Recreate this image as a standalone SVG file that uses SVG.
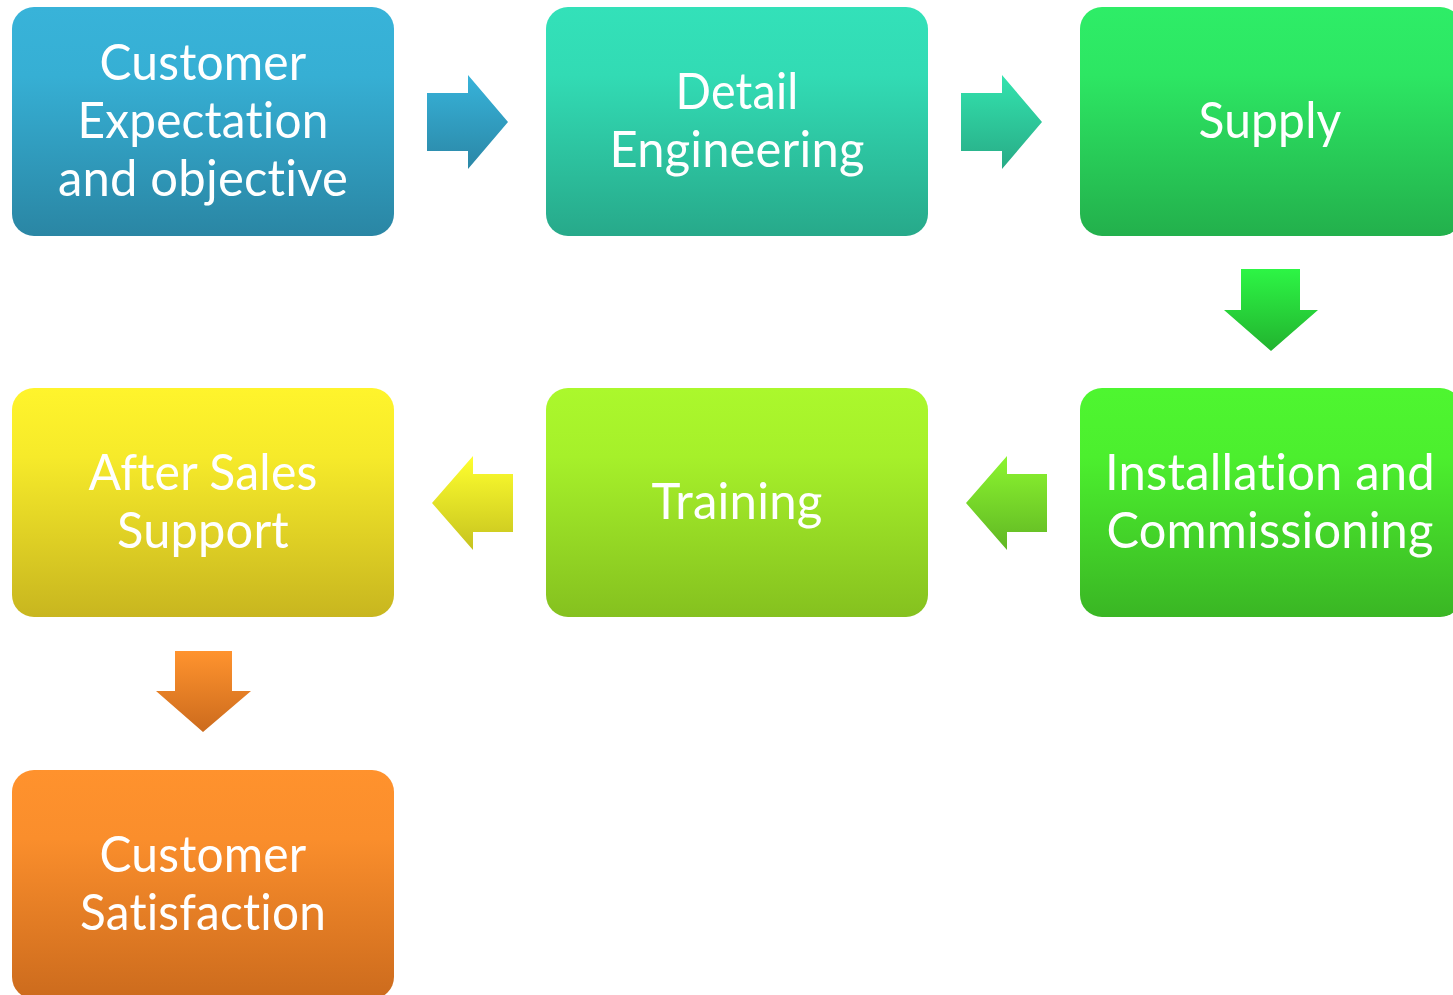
<svg xmlns="http://www.w3.org/2000/svg" width="1453" height="995" viewBox="0 0 1453 995">
<defs>
<linearGradient id="g1" x1="0" y1="0" x2="0" y2="1"><stop offset="0" stop-color="#38b3d9"/><stop offset="0.3" stop-color="#36afd4"/><stop offset="1" stop-color="#2a86a4"/></linearGradient>
<linearGradient id="g2" x1="0" y1="0" x2="0" y2="1"><stop offset="0" stop-color="#33e1b9"/><stop offset="0.3" stop-color="#32dbb4"/><stop offset="1" stop-color="#27a98a"/></linearGradient>
<linearGradient id="g3" x1="0" y1="0" x2="0" y2="1"><stop offset="0" stop-color="#2eed67"/><stop offset="0.3" stop-color="#2de663"/><stop offset="1" stop-color="#23b04c"/></linearGradient>
<linearGradient id="g4" x1="0" y1="0" x2="0" y2="1"><stop offset="0" stop-color="#4ef630"/><stop offset="0.3" stop-color="#4cef2e"/><stop offset="1" stop-color="#3ab624"/></linearGradient>
<linearGradient id="g5" x1="0" y1="0" x2="0" y2="1"><stop offset="0" stop-color="#abf82c"/><stop offset="0.3" stop-color="#a6f02a"/><stop offset="1" stop-color="#85c11f"/></linearGradient>
<linearGradient id="g6" x1="0" y1="0" x2="0" y2="1"><stop offset="0" stop-color="#fff42c"/><stop offset="0.3" stop-color="#f6ea2a"/><stop offset="1" stop-color="#c8b61f"/></linearGradient>
<linearGradient id="g7" x1="0" y1="0" x2="0" y2="1"><stop offset="0" stop-color="#ff922d"/><stop offset="0.3" stop-color="#fa8e2c"/><stop offset="1" stop-color="#cc6b1d"/></linearGradient>
<linearGradient id="a1" x1="0" y1="0" x2="0" y2="1"><stop offset="0" stop-color="#37b3da"/><stop offset="1" stop-color="#2b87a6"/></linearGradient>
<linearGradient id="a2" x1="0" y1="0" x2="0" y2="1"><stop offset="0" stop-color="#33e3ae"/><stop offset="1" stop-color="#28ab86"/></linearGradient>
<linearGradient id="a3" x1="0" y1="0" x2="0" y2="1"><stop offset="0" stop-color="#2df545"/><stop offset="1" stop-color="#22b32f"/></linearGradient>
<linearGradient id="a4" x1="0" y1="0" x2="0" y2="1"><stop offset="0" stop-color="#8cf52f"/><stop offset="1" stop-color="#60b724"/></linearGradient>
<linearGradient id="a5" x1="0" y1="0" x2="0" y2="1"><stop offset="0" stop-color="#ffff2e"/><stop offset="1" stop-color="#c6c31f"/></linearGradient>
<linearGradient id="a6" x1="0" y1="0" x2="0" y2="1"><stop offset="0" stop-color="#ff932e"/><stop offset="1" stop-color="#cc6b1d"/></linearGradient>
</defs>
<style>
.box{rx:22px;ry:22px}
text{font-family:Lato,"Open Sans","Liberation Sans",sans-serif;font-size:50px;fill:#ffffff;text-anchor:middle;letter-spacing:0.2px;font-variant-ligatures:none;font-feature-settings:"liga" 0,"clig" 0,"dlig" 0}
</style>
<rect width="1453" height="995" fill="#ffffff"/>
<g id="connectors">
<polygon points="427,93 468,93 468,75 508,122 468,169 468,151 427,151" fill="url(#a1)"/>
<polygon points="961,93 1002,93 1002,75 1042,122 1002,169 1002,151 961,151" fill="url(#a2)"/>
<polygon points="1241,269 1300,269 1300,310 1318,310 1271,351 1224,310 1241,310" fill="url(#a3)"/>
<polygon points="1047,474 1007,474 1007,456 966,503 1007,550 1007,532 1047,532" fill="url(#a4)"/>
<polygon points="513,474 473,474 473,456 432,503 473,550 473,532 513,532" fill="url(#a5)"/>
<polygon points="175,651 232,651 232,691 251,691 203,732 156,691 175,691" fill="url(#a6)"/>
</g>
<g id="n1"><rect class="box" x="12" y="7" width="382" height="229" fill="url(#g1)"/>
<text x="203" y="80" textLength="207" lengthAdjust="spacingAndGlyphs">Customer</text>
<text x="203" y="138" textLength="251" lengthAdjust="spacingAndGlyphs">Expectation</text>
<text x="203" y="196" textLength="290" lengthAdjust="spacingAndGlyphs">and objective</text></g>
<g id="n2"><rect class="box" x="546" y="7" width="382" height="229" fill="url(#g2)"/>
<text x="737" y="109" textLength="123" lengthAdjust="spacingAndGlyphs">Detail</text>
<text x="737" y="167" textLength="255" lengthAdjust="spacingAndGlyphs">Engineering</text></g>
<g id="n3"><rect class="box" x="1080" y="7" width="382" height="229" fill="url(#g3)"/>
<text x="1270" y="138" textLength="143" lengthAdjust="spacingAndGlyphs">Supply</text></g>
<g id="n4"><rect class="box" x="1080" y="388" width="382" height="229" fill="url(#g4)"/>
<text x="1270" y="490" textLength="330" lengthAdjust="spacingAndGlyphs">Installation and</text>
<text x="1270" y="548" textLength="327" lengthAdjust="spacingAndGlyphs">Commissioning</text></g>
<g id="n5"><rect class="box" x="546" y="388" width="382" height="229" fill="url(#g5)"/>
<text x="737" y="519" textLength="171" lengthAdjust="spacingAndGlyphs">Training</text></g>
<g id="n6"><rect class="box" x="12" y="388" width="382" height="229" fill="url(#g6)"/>
<text x="203" y="490" textLength="229" lengthAdjust="spacingAndGlyphs">After Sales</text>
<text x="203" y="548" textLength="172" lengthAdjust="spacingAndGlyphs">Support</text></g>
<g id="n7"><rect class="box" x="12" y="770" width="382" height="229" fill="url(#g7)"/>
<text x="203" y="872" textLength="207" lengthAdjust="spacingAndGlyphs">Customer</text>
<text x="203" y="930" textLength="246" lengthAdjust="spacingAndGlyphs">Satisfaction</text></g>
</svg>
